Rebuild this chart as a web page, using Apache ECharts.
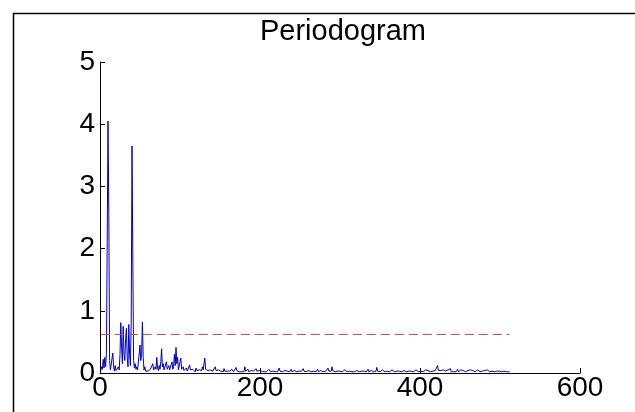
<!DOCTYPE html>
<html>
<head>
<meta charset="utf-8">
<script src="https://cdn.jsdelivr.net/npm/echarts@6/dist/echarts.min.js"></script>
<style>
  html, body { margin: 0; padding: 0; background: #fff; }
  #main { width: 635px; height: 412px; }
</style>
</head>
<body>
<div id="main"></div>
<script>
// periodogram values, bin 1..512
let power = [
  .04,.10,.06,.22,.08,.25,.10,.30,2.1,4.05,2.55,.20,.05,.08,.03,.32,.10,.03,.12,.04,
  .06,.02,.10,.05,.30,.81,.40,.15,.75,.30,.20,.55,.72,.25,.10,.78,.30,.12,.80,3.65,
  1.85,.20,.08,.15,.06,.10,.05,.04,.08,.45,.20,.30,.82,.25,.05,.10,.03,.02,.04,.03,
  .05,.02,.06,.04,.08,.15,.05,.03,.10,.06,.25,.08,.04,.12,.06,.18,.39,.10,.15,.05,
  .08,.03,.18,.06,.04,.12,.05,.08,.03,.18,.06,.10,.30,.12,.41,.15,.25,.05,.08,.04,
  .24,.06,.03,.10,.04,.02,.05,.08,.03,.04,.06,.13,.05,.02,.04,.06,.03,.05,.02,.08,
  .04,.03,.02,.05,.03,.06,.04,.10,.05,.08,.24,.06,.03,.08,.04,.02,.03,.05,.02,.04,
  .03,.05,.02,.10,.04,.02,.03,.05,.02,.05,.03,.02,.04,.02,.07,.03,.02,.04,.03,.04,
  .02,.03,.05,.02,.06,.03,.02,.04,.03,.09,.04,.02,.03,.02,.04,.05,.02,.03,.04,.02,
  .10,.03,.02,.04,.06,.02,.03,.02,.04,.04,.02,.03,.05,.02,.07,.03,.02,.03,.04,.05,
  .02,.03,.02,.04,.02,.03,.05,.02,.03,.02,.06,.03,.02,.04,.02,.03,.02,.05,.02,.03,
  .04,.02,.03,.08,.03,.02,.04,.02,.03,.02,.04,.05,.02,.03,.02,.04,.02,.03,.06,.02,
  .03,.02,.04,.02,.03,.02,.05,.02,.03,.04,.02,.03,.02,.07,.03,.02,.04,.02,.03,.02,
  .04,.02,.03,.02,.05,.02,.03,.02,.04,.02,.03,.06,.02,.03,.02,.04,.02,.03,.02,.05,
  .02,.03,.02,.04,.08,.03,.02,.04,.03,.10,.04,.02,.03,.02,.05,.02,.03,.04,.02,.03,
  .02,.04,.02,.03,.02,.05,.02,.03,.02,.04,.02,.03,.02,.04,.02,.03,.02,.02,.03,.02,
  .04,.02,.03,.02,.05,.02,.03,.04,.02,.03,.02,.04,.02,.03,.06,.02,.03,.02,.04,.02,
  .03,.02,.04,.02,.03,.09,.03,.02,.04,.02,.03,.02,.05,.02,.03,.02,.04,.02,.03,.02,
  .04,.02,.03,.02,.05,.02,.03,.02,.04,.02,.03,.06,.02,.03,.02,.04,.02,.03,.02,.04,
  .02,.03,.02,.05,.02,.03,.04,.02,.03,.02,.04,.02,.03,.02,.05,.02,.03,.02,.04,.02,
  .03,.02,.04,.02,.03,.02,.05,.02,.03,.04,.02,.03,.02,.04,.02,.03,.06,.02,.04,.03,
  .05,.12,.04,.03,.02,.04,.02,.03,.05,.02,.06,.03,.02,.04,.05,.02,.03,.07,.02,.03,
  .04,.02,.05,.03,.02,.04,.06,.02,.03,.02,.05,.03,.02,.04,.02,.06,.02,.03,.02,.04,
  .03,.02,.05,.02,.03,.04,.02,.03,.02,.04,.02,.05,.02,.03,.02,.04,.02,.03,.02,.03,
  .04,.02,.03,.05,.02,.03,.02,.04,.02,.03,.02,.04,.02,.03,.02,.03,.04,.02,.03,.02,
  .03,.02,.04,.02,.03,.02,.03,.02,.02,.03,.02,.02
]
let threshold = 0.62
let xTicks = [0, 200, 400, 600]
let yTicks = [0, 1, 2, 3, 4, 5]

let lineData = power.map((v, i) => [i + 1, v])
let threshData = [[1, threshold], [power.length, threshold]]

var chartDom = document.getElementById('main')
var myChart = echarts.init(chartDom)
var font = 'Liberation Sans, Arial, sans-serif'
var option = {
    animation: false,
    backgroundColor: '#fff',
    title: {
        text: 'Periodogram',
        left: 338,
        top: 12,
        textAlign: 'center',
        textStyle: { fontFamily: font, fontWeight: 'normal', fontSize: 29, color: '#000' },
    },
    graphic: [
        { type: 'line', shape: { x1: 13.5, y1: 13, x2: 13.5, y2: 412 }, style: { stroke: '#000', lineWidth: 1.5 } },
        { type: 'line', shape: { x1: 13, y1: 13.5, x2: 635, y2: 13.5 }, style: { stroke: '#000', lineWidth: 1.5 } },
    ],
    grid: { left: 100, right: 55, top: 62, bottom: 39 },
    xAxis: {
        type: 'value',
        min: xTicks[0],
        max: xTicks[xTicks.length - 1],
        interval: 200,
        axisLine: { onZero: false, lineStyle: { color: '#000', width: 1 } },
        axisTick: { inside: true, length: 5, lineStyle: { color: '#000' } },
        axisLabel: { fontFamily: font, fontSize: 28, color: '#000', margin: 1 },
        splitLine: { show: false },
    },
    yAxis: {
        type: 'value',
        min: yTicks[0],
        max: yTicks[yTicks.length - 1],
        interval: 1,
        axisLine: { show: true, lineStyle: { color: '#000', width: 1 } },
        axisTick: { show: true, inside: true, length: 5, lineStyle: { color: '#000' } },
        axisLabel: { fontFamily: font, fontSize: 28, color: '#000', margin: 5 },
        splitLine: { show: false },
    },
    series: [
        {
            type: 'line',
            data: lineData,
            showSymbol: false,
            lineStyle: { color: '#0000c8', width: 1 },
        },
        {
            type: 'line',
            data: threshData,
            showSymbol: false,
            lineStyle: { color: '#d84040', width: 1, type: [9, 5] },
        },
    ],
}
option && myChart.setOption(option)
</script>
</body>
</html>
